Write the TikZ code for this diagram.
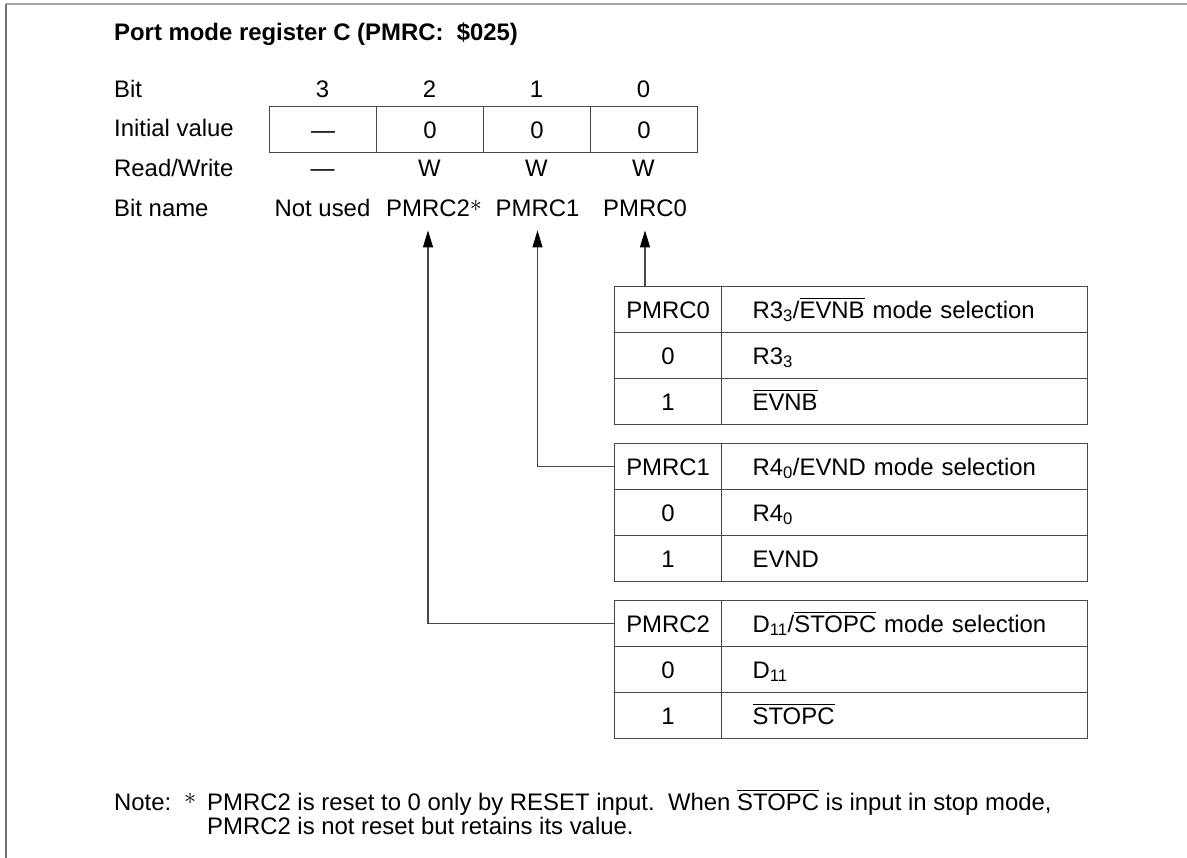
\documentclass[tikz,border=0pt]{standalone}
\usepackage{fontspec}
\usepackage{graphicx}
\setmainfont{Liberation Sans}
\usetikzlibrary{arrows.meta}
\newcommand\ovl[1]{\setbox0=\hbox{#1}\rlap{\rule[\dimexpr\ht0+2.5pt\relax]{\wd0}{1.1pt}}\box0\relax}
\newcommand\myast[1]{\raisebox{#1}{\scalebox{1.4}{\fontsize{17.28}{18}\selectfont$\ast$}}}
\begin{document}
\begin{tikzpicture}[x=1pt,y=-1pt, font=\fontsize{23.9pt}{28pt}\selectfont,
  linecol/.style={draw=black!72, line width=1.2pt},
  celll/.style={linecol, anchor=north west, minimum width=107pt, minimum height=46pt, inner sep=0pt, text height=17pt, text depth=0pt},
  cellr/.style={linecol, anchor=north west, minimum width=366pt, minimum height=46pt, inner xsep=31pt, inner ysep=0pt, text width=304pt, align=left, text height=17pt, text depth=0pt},
  lbltext/.style={anchor=base west, inner sep=0pt},
  colval/.style={anchor=base, inner sep=0pt},
  conn/.style={draw=black!72, line width=1.2pt, -{Triangle[length=17pt,width=10pt,color=black]}}]
\useasboundingbox (0,0) rectangle (1187,858);
% frame
\draw[black!35, line width=2pt] (6,4) -- (1187,4);
\draw[black!55, line width=1.2pt] (6,4) -- (6,858);
% title
\node[lbltext, font=\fontsize{23.9pt}{28pt}\selectfont\bfseries] (title) at (114,41) {Port mode register C (PMRC:\ \ \$025)};
% row labels
\node[lbltext] (lbit) at (114,98) {Bit};
\node[lbltext] (linit) at (114,137) {Initial value};
\node[lbltext] (lrw) at (114,177) {Read/Write};
\node[lbltext] (lname) at (114,217) {Bit name};
% bit numbers
\node[colval] (b3) at (322.5,98) {3};
\node[colval] (b2) at (429.5,98) {2};
\node[colval] (b1) at (536.5,98) {1};
\node[colval] (b0) at (643.5,98) {0};
% register cells
\node[celll] (r3) at (269,106) {\textemdash};
\node[celll] (r2) at (376,106) {0};
\node[celll] (r1) at (483,106) {0};
\node[celll] (r0) at (590,106) {0};
% read/write
\node[colval] (w3) at (322.5,177) {\textemdash};
\node[colval] (w2) at (429.5,177) {W};
\node[colval] (w1) at (536.5,177) {W};
\node[colval] (w0) at (643.5,177) {W};
% bit names
\node[colval] (bn3) at (322.5,217) {Not used};
\node[colval] (bn2) at (428,217) {PMRC2\rlap{\myast{5pt}}};
\node[colval] (bn1) at (537.5,217) {PMRC1};
\node[colval] (bn0) at (645,217) {PMRC0};
% table PMRC0
\node[celll] (t0h) at (614,286) {PMRC0};
\node[cellr] (t0hd) at (721,286) {R3\textsubscript{3}/\ovl{EVNB} mode selection};
\node[celll] (t0a) at (614,332) {0};
\node[cellr] (t0ad) at (721,332) {R3\textsubscript{3}};
\node[celll] (t0b) at (614,378) {1};
\node[cellr] (t0bd) at (721,378) {\ovl{EVNB}};
% table PMRC1
\node[celll] (t1h) at (614,443) {PMRC1};
\node[cellr] (t1hd) at (721,443) {R4\textsubscript{0}/EVND mode selection};
\node[celll] (t1a) at (614,489) {0};
\node[cellr] (t1ad) at (721,489) {R4\textsubscript{0}};
\node[celll] (t1b) at (614,535) {1};
\node[cellr] (t1bd) at (721,535) {EVND};
% table PMRC2
\node[celll] (t2h) at (614,600) {PMRC2};
\node[cellr] (t2hd) at (721,600) {D\textsubscript{11}/\ovl{STOPC} mode selection};
\node[celll] (t2a) at (614,646) {0};
\node[cellr] (t2ad) at (721,646) {D\textsubscript{11}};
\node[celll] (t2b) at (614,692) {1};
\node[cellr] (t2bd) at (721,692) {\ovl{STOPC}};
% connectors
\draw[conn] (bn0.south |- t0h.north) -- ([yshift=-13pt]bn0.south);
\draw[conn] (t1h.west) -| ([yshift=-13pt]bn1.south);
\draw[conn] (t2h.west) -| ([yshift=-13pt]bn2.south);
% note
\node[lbltext] (note) at (114,810) {Note:};
\node[lbltext] (noteast) at (184,810) {\myast{6pt}};
\node[lbltext] (note1) at (207,810) {PMRC2 is reset to 0 only by RESET input.\ \ When \ovl{STOPC} is input in stop mode,};
\node[lbltext] (note2) at (207,834) {PMRC2 is not reset but retains its value.};
\end{tikzpicture}
\end{document}
